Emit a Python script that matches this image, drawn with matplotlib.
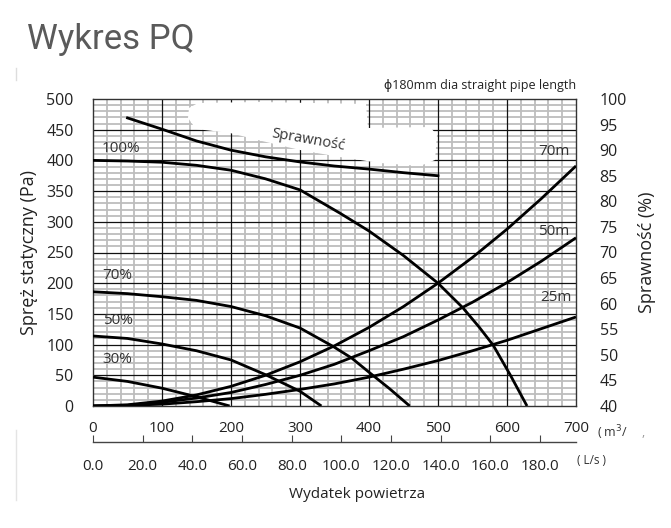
import matplotlib
matplotlib.use("Agg")
import matplotlib.pyplot as plt
from matplotlib.patches import Polygon
from matplotlib.lines import Line2D

# fan curves: static pressure (Pa) vs air flow (m3/h)
q_fan100 = [0, 50, 100, 150, 200, 250, 300, 358, 400, 450, 500, 536, 560, 580, 605, 629]
p_fan100 = [400, 399, 397, 392, 384, 370, 352, 314, 285, 245, 200, 160, 128, 99, 50, 0]
q_fan70 = [0, 50, 100, 150, 200, 250, 300, 348, 375, 400, 430, 459]
p_fan70 = [186, 183, 178, 172, 162, 147, 127, 97, 78, 55, 28, 0]
q_fan50 = [0, 50, 100, 150, 200, 250, 300, 331]
p_fan50 = [114, 110, 101, 90, 75, 51, 24, 0]
q_fan30 = [0, 50, 100, 150, 198]
p_fan30 = [47, 40, 29, 15, 0]

# pipe system curves (phi180 straight pipe)
q_pipe = [0, 50, 100, 150, 200, 250, 300, 350, 400, 450, 500, 550, 600, 650, 700]
p_pipe70 = [0, 2, 8, 18, 32, 50, 72, 98, 128, 162, 200, 242, 288, 338, 391]
p_pipe50 = [0, 1, 6, 13, 22, 35, 50, 68, 90, 113, 140, 169, 201, 236, 274]
p_pipe25 = [0, 1, 3, 7, 12, 19, 27, 36, 47, 60, 74, 90, 107, 126, 145]

# efficiency (%) vs air flow (m3/h)
q_eff = [50, 100, 150, 200, 250, 300, 350, 400, 450, 500]
eff = [96.3, 94.1, 91.8, 90.0, 88.7, 87.7, 86.9, 86.3, 85.6, 85.0]

left_ticks = [0, 50, 100, 150, 200, 250, 300, 350, 400, 450, 500]
right_ticks = [40, 45, 50, 55, 60, 65, 70, 75, 80, 85, 90, 95, 100]
m3h_labels = [0, 100, 200, 300, 400, 500, 600, 700]
ls_labels = [0, 20, 40, 60, 80, 100, 120, 140, 160, 180]

FONT = ["Open Sans", "DejaVu Sans"]
W, H = 671, 528
fig = plt.figure(figsize=(W / 100, H / 100), dpi=100)


def fx(px):
    return px / W


def fy(py):
    return 1 - py / H


ax = fig.add_axes([fx(93), fy(406), fx(576) - fx(93), fy(99) - fy(406)])
ax.set_xlim(0, 700)
ax.set_ylim(0, 500)

# grid
for q in range(0, 701, 20):
    if q % 100:
        ax.axvline(q, color="#bdbdbd", lw=1.3, zorder=1)
for p in range(0, 501, 10):
    if p % 50:
        ax.axhline(p, color="#bdbdbd", lw=1.3, zorder=1)
for q in range(100, 700, 100):
    ax.axvline(q, color="#111111", lw=0.9, zorder=2)
for p in range(50, 500, 50):
    ax.axhline(p, color="#111111", lw=0.9, zorder=2)

# white erased patch behind "Sprawność"
patch = [(189, 108), (198, 103), (260, 102), (366, 104), (368, 128), (430, 127),
         (437, 135), (435, 160), (420, 166), (380, 163), (340, 157), (300, 150),
         (262, 141), (230, 133), (196, 129), (188, 118)]
patch = [((x - 93) / (576 - 93), (406 - y) / (406 - 99)) for x, y in patch]
ax.add_patch(Polygon(patch, closed=True, transform=ax.transAxes, facecolor="white",
                     edgecolor="none", zorder=3))

lw = 2.0
for q, p in [(q_fan100, p_fan100), (q_fan70, p_fan70), (q_fan50, p_fan50), (q_fan30, p_fan30)]:
    ax.plot(q, p, color="black", lw=lw, zorder=5, solid_capstyle="butt")
for p in [p_pipe70, p_pipe50, p_pipe25]:
    ax.plot(q_pipe, p, color="black", lw=lw, zorder=5, solid_capstyle="butt")

for s in ax.spines.values():
    s.set_color("#333333")
    s.set_linewidth(1.0)
ax.set_yticks(left_ticks)
ax.set_yticklabels([str(v) for v in left_ticks], fontsize=11.5, family=FONT, color="#222222")
ax.tick_params(axis="y", length=0, pad=14)
ax.set_xticks([])
ax.set_ylabel("Spręż statyczny (Pa)", fontsize=13, family=FONT, color="#222222", labelpad=6)

axr = ax.twinx()
axr.set_ylim(40, 100)
axr.plot(q_eff, eff, color="black", lw=lw, zorder=5)
axr.set_yticks(right_ticks)
axr.set_yticklabels([str(v) for v in right_ticks], fontsize=11.5, family=FONT, color="#222222")
axr.tick_params(axis="y", length=0, pad=17)
axr.set_ylabel("Sprawność (%)", fontsize=13, family=FONT, color="#222222", labelpad=8)
for s in axr.spines.values():
    s.set_visible(False)

# curve labels
lab = dict(fontsize=11, family=FONT, color="#333333", zorder=6)
ax.text(12, 419, "100%", ha="left", va="center", **lab)
ax.text(14, 213, "70%", ha="left", va="center", **lab)
ax.text(14, 140, "50%", ha="left", va="center", **lab)
ax.text(14, 75, "30%", ha="left", va="center", **lab)
ax.text(691, 414, "70m", ha="right", va="center", **lab)
ax.text(691, 284, "50m", ha="right", va="center", **lab)
ax.text(693, 176, "25m", ha="right", va="center", **lab)
ax.text(312, 433, "Sprawność", ha="center", va="center", rotation=-10,
        fontsize=10.5, family=FONT, color="#333333", zorder=6)
ax.text(1.0, 1.045, "ϕ180mm dia straight pipe length", transform=ax.transAxes,
        ha="right", va="center", fontsize=9, family=FONT, color="#222222")

# separate flow axis below the chart
axb = fig.add_axes([fx(93), fy(442), fx(576) - fx(93), 0.0005])
axb.set_xlim(0, 700)
axb.set_yticks([])
axb.xaxis.remove_overlapping_locs = False
for k in ["left", "right", "top"]:
    axb.spines[k].set_visible(False)
axb.spines["bottom"].set_color("#444444")
axb.spines["bottom"].set_linewidth(1.0)
axb.set_xticks([v * 3.6 for v in ls_labels])
axb.set_xticklabels([f"{v:.1f}" for v in ls_labels], fontsize=11, family=FONT, color="#222222")
axb.tick_params(axis="x", which="major", direction="in", length=5, pad=12, color="#444444")
axb.set_xticks(m3h_labels, minor=True)
axb.set_xticklabels([str(v) for v in m3h_labels], minor=True, fontsize=11, family=FONT,
                    color="#222222")
axb.tick_params(axis="x", which="minor", bottom=False, top=False, labelbottom=False,
                labeltop=True, pad=2)

fig.text(fx(597), fy(433), "( m$^3$/", fontsize=9, family=FONT, color="#333333", va="center")
fig.text(fx(641), fy(433), ",", fontsize=9, family=FONT, color="#999999", va="center")
fig.text(fx(577), fy(461), "( L/s )", fontsize=8.5, family=FONT, color="#333333", va="center")
fig.text(fx(357), fy(494), "Wydatek powietrza", fontsize=11, family=FONT, color="#222222",
         ha="center", va="center")

fig.text(fx(27), fy(39), "Wykres PQ", fontsize=25, family="Roboto", fontweight="normal",
         color="#5a5a5a", ha="left", va="center")

# faint scan edge
fig.add_artist(Line2D([fx(16), fx(16)], [fy(68), fy(80)], color="#dddddd", lw=1))
fig.add_artist(Line2D([fx(16), fx(16)], [fy(430), fy(500)], color="#e4e4e4", lw=1))

fig.savefig("out.png", dpi=100)
